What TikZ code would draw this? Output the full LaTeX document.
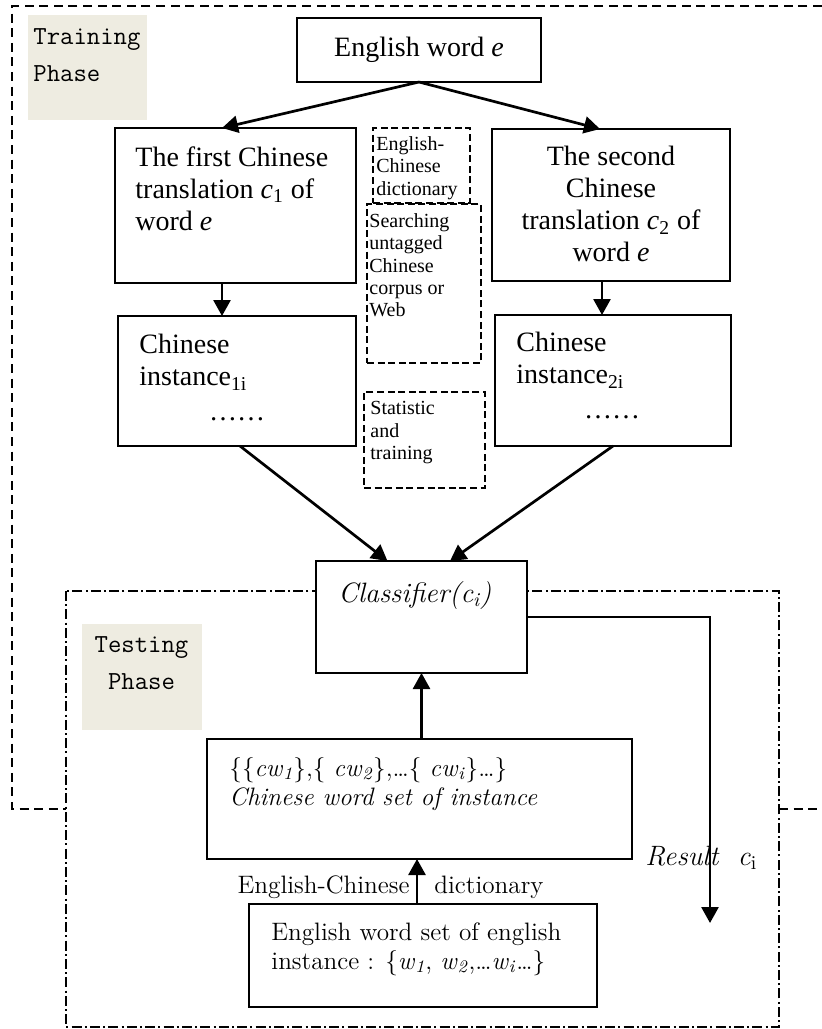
\documentclass[tikz,border=0pt]{standalone}
\usepackage{fontspec}
\usepackage{tikz}
\usetikzlibrary{arrows.meta}

\newfontfamily\tnr{Liberation Serif}
\newcommand{\bigtnr}{\tnr\fontsize{14}{16}\selectfont}
\newcommand{\smalltnr}{\tnr\fontsize{10}{11.2}\selectfont}
\newcommand{\midlm}{\fontsize{12.6}{14.5}\selectfont}
\newcommand{\clsfont}{\fontsize{14}{16}\selectfont}
\newcommand{\lblfont}{\ttfamily\fontsize{13}{18.5}\selectfont}
\definecolor{phasecol}{HTML}{EEECE1}

\tikzset{
  box/.style={draw, line width=1pt, inner sep=0pt, outer sep=0pt, fill=white},
  dbox/.style={draw, line width=1.3pt, dash pattern=on 3.5pt off 1.8pt, inner sep=0pt, outer sep=0pt},
  phasebg/.style={fill=phasecol, inner sep=0pt},
  txt/.style={inner sep=0pt, align=left},
  flow/.style={line width=1.35pt, -{Triangle[length=8pt,width=8.5pt]}},
  trainline/.style={line width=1.35pt, dash pattern=on 4.5pt off 2.8pt},
  testline/.style={line width=1.1pt, dash pattern=on 5pt off 1.6pt on 1pt off 1.6pt}
}

\begin{document}
\begin{tikzpicture}[x=0.5pt,y=-0.5pt]
\useasboundingbox (0,0) rectangle (822,1029);

% phase borders
\draw[trainline] (822,6) -- (12,6) -- (12,809) -- (66,809);
\draw[trainline] (779,809) -- (822,809);
\draw[testline] (66,591) rectangle (779,1027);

% phase labels
\node[phasebg, minimum width=59.5pt, minimum height=52.5pt] (trainbg) at (87.5,67.5) {};
\node[txt, font=\lblfont, anchor=north west] (trainlbl) at (33,28) {Training\\Phase};
\node[phasebg, minimum width=60pt, minimum height=53pt] (testbg) at (142,677) {};
\node[txt, align=center, font=\lblfont, anchor=north] (testlbl) at (141.5,636) {Testing\\Phase};

% training boxes
\node[box, font=\bigtnr, minimum width=122pt, minimum height=32pt] (eword) at (419,50) {English word \textit{e}};
\node[box, minimum width=120.5pt, minimum height=77.5pt] (first) at (235.5,205.5) {};
\node[box, minimum width=119pt, minimum height=76pt] (second) at (611,205) {};
\node[dbox, minimum width=48.5pt, minimum height=37.5pt] (dict) at (421.5,165.5) {};
\node[dbox, minimum width=57pt, minimum height=79.5pt] (search) at (424,283.5) {};
\node[dbox, minimum width=60.5pt, minimum height=48pt] (stat) at (424.5,440) {};
\node[box, minimum width=119pt, minimum height=65pt] (inst1) at (237,381) {};
\node[box, minimum width=118pt, minimum height=65.5pt] (inst2) at (613,380.5) {};

% texts in training boxes
\node[txt, font=\bigtnr, anchor=north west] (firsttxt) at (135,146) {The first Chinese\\translation \textit{c}\textsubscript{1} of\\word \textit{e}};
\node[txt, align=center, font=\bigtnr, anchor=north] (secondtxt) at (611,146) {The second\\Chinese\\translation \textit{c}\textsubscript{2} of\\word \textit{e}};
\node[txt, font=\smalltnr, anchor=north west] (dicttxt) at (376,136) {English-\\Chinese\\dictionary};
\node[txt, font=\smalltnr, anchor=north west] (searchtxt) at (369,213) {Searching\\untagged\\Chinese\\corpus or\\Web};
\node[txt, font=\smalltnr, anchor=north west] (stattxt) at (370,401) {Statistic\\and\\training};
\node[txt, font=\bigtnr, anchor=north west] (inst1txt) at (139,334) {Chinese\\instance\textsubscript{1i}};
\node[inner sep=0pt, font=\bigtnr, anchor=base] (dots1) at (237,420) {……};
\node[txt, font=\bigtnr, anchor=north west] (inst2txt) at (516,332) {Chinese\\instance\textsubscript{2i}};
\node[inner sep=0pt, font=\bigtnr, anchor=base] (dots2) at (612,418) {……};

% testing boxes
\node[box, minimum width=105.5pt, minimum height=56pt] (clf) at (421.5,617) {};
\node[box, minimum width=212.5pt, minimum height=60pt] (cws) at (419.5,799) {};
\node[box, minimum width=174pt, minimum height=51.5pt] (ews) at (423,955.5) {};
\node[txt, font=\clsfont, anchor=north west] (clftxt) at (338,581) {\itshape Classifier(c\textsubscript{i})};
\node[txt, font=\midlm, anchor=north west] (cwstxt) at (229,757) {\{\{\textit{cw}\textsubscript{\textit{1}}\},\{ \textit{cw}\textsubscript{\textit{2}}\},\ldots\{ \textit{cw}\textsubscript{\textit{i}}\}\ldots\}\\\textit{Chinese word set of instance}};
\node[txt, font=\midlm, anchor=north west] (ewstxt) at (271,922) {English word set of english\\instance : \{\textit{w}\textsubscript{\textit{1}}, \textit{w}\textsubscript{\textit{2}},\ldots\textit{w}\textsubscript{\textit{i}}\ldots\}};

% connectors
\draw[flow] (eword.south) -- ([xshift=-6.75pt]first.north);
\draw[flow] (eword.south) -- ([xshift=-5.5pt]second.north);
\draw[flow] ([xshift=-6.75pt]first.south) -- ([xshift=-6.75pt]first.south |- inst1.north);
\draw[flow] ([xshift=-4.5pt]second.south) -- ([xshift=-4.5pt]second.south |- inst2.north);
\draw[flow] ([xshift=1.5pt]inst1.south) -- ([xshift=-17pt]clf.north);
\draw[flow] (inst2.south) -- ([xshift=14.25pt]clf.north);
\draw[flow] (cws.north -| clf.south) -- (clf.south);
\draw[flow] ([xshift=-3pt]ews.north) -- ([xshift=-3pt]ews.north |- cws.south);
\coordinate (resend) at (710,923);
\draw[flow] (clf.east) -| (resend);

% arrow labels
\node[inner sep=0pt, font=\midlm, anchor=base east] (dictl) at (410,893) {English-Chinese};
\node[inner sep=0pt, font=\midlm, anchor=base west] (dictr) at (434,893) {dictionary};
\node[inner sep=0pt, font=\clsfont, anchor=base west] (result) at (645,865) {\textit{Result}\ \ \textit{c}\textsubscript{i}};
\end{tikzpicture}
\end{document}
